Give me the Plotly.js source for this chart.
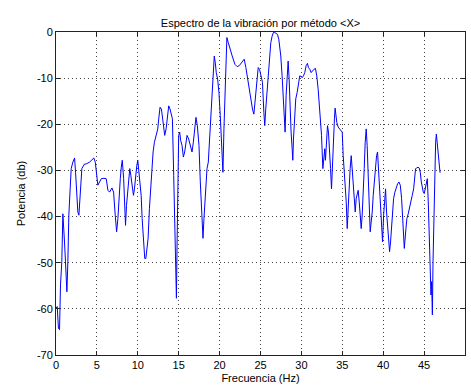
<!DOCTYPE html>
<html>
<head>
<meta charset="utf-8">
<script src="https://cdn.plot.ly/plotly-3.0.1.min.js"></script>
<style>
  html, body { margin: 0; padding: 0; background: #fff; }
  #chart { width: 471px; height: 387px; }
</style>
</head>
<body>
<div id="chart"></div>
<script>
// Spectrum samples: frequency (Hz) and power (dB)
const freqLow = [0.0, 0.15, 0.3, 0.43, 0.55, 0.71, 0.84, 0.96, 1.04, 1.16, 1.33, 1.45, 1.57, 1.73, 1.86, 2.06, 2.27, 2.39, 2.55, 2.67,
  2.8, 2.96, 3.16, 3.49, 3.69, 4.1, 4.39, 4.63, 4.8, 4.96, 5.12, 5.33, 5.53, 5.86, 6.14, 6.35, 6.55, 6.84, 7.04, 7.24,
  7.41, 7.57, 7.69, 7.86, 7.98, 8.1, 8.27, 8.39,
  8.5, 8.62, 8.74, 8.9, 9.02, 9.15, 9.31, 9.47, 9.59, 9.72, 9.88, 10, 10.12, 10.24, 10.41, 10.53, 10.69, 10.85, 10.98, 11.1,
  11.26, 11.42, 11.59, 11.75, 11.87, 12.03, 12.24, 12.44, 12.56, 12.72, 12.89, 13.01, 13.13, 13.29, 13.46, 13.62, 13.78, 13.94, 14.11, 14.23,
  14.39, 14.55, 14.67, 14.72, 14.8, 14.92, 15, 15.12, 15.24, 15.41, 15.57, 15.73, 15.85, 16.02, 16.22, 16.42, 16.63, 16.79, 16.95];
const powerLow = [-59.9, -59.5, -64.2, -64.5, -54.8, -49.8, -39.4, -41.9, -45.5, -49.8, -56.3, -49.8, -39.7, -34, -29.6, -28.2, -27.3, -30.4, -34.7, -39,
  -39.7, -34.7, -29.6, -28.6, -28.6, -28.2, -27.8, -27.3, -28.2, -31.1, -33.2, -32.5, -31.8, -31.7, -31.8, -34.3, -34.7, -33.8, -34.7, -39.7,
  -43.3, -40.4, -35.4, -31.8, -29.3, -27.8, -31.8, -40.4,
  -41.9, -37.6, -34.7, -30.4, -29.6, -31.1, -33.2, -35.4, -34, -31.1, -28.9, -27.8, -30.4, -31.8, -35.4, -40.4, -44.7, -49.1, -49.1, -46.9,
  -44.7, -38.3, -34, -28.2, -26, -23.9, -22.4, -21, -18.8, -16.3, -16.7, -18.8, -20.3, -22.4, -21, -17.8, -16, -16.7, -17.8, -18.8,
  -31.1, -42.6, -52.7, -57.7, -46.2, -35.4, -22.4, -21.7, -23.5, -24.6, -27.1, -26, -23.9, -22.4, -23.2, -24.6, -26, -23.9, -21.7];

const freqMid = [17.11, 17.28, 17.48, 17.64, 17.8, 17.97, 18.09, 18.25, 18.46, 18.62, 18.78, 18.94, 19.11, 19.23, 19.35, 19.47, 19.59, 19.76, 19.92, 20.08,
  20.24, 20.41, 20.53, 20.65, 20.77, 20.89, 21.06, 21.26, 21.54, 21.87, 22.15, 22.4, 22.68, 23.01, 23.21, 23.41, 23.62, 23.82, 24.02, 24.19,
  24.31, 24.43, 24.59, 24.72, 24.88, 25.04, 25.24, 25.41,
  25.52, 25.64, 25.81, 25.93, 26.09, 26.26, 26.42, 26.58, 26.74, 26.95, 27.07, 27.24, 27.36, 27.48, 27.64, 27.76, 27.89, 28.01, 28.13, 28.25,
  28.38, 28.5, 28.62, 28.74, 28.87, 28.95, 29.03, 29.15, 29.31, 29.48, 29.64, 29.8, 29.93, 30.09, 30.25, 30.41, 30.58, 30.74, 30.86, 31.03,
  31.19, 31.35, 31.52, 31.72, 31.88, 32.05, 32.21, 32.33, 32.46, 32.54, 32.62, 32.7, 32.78, 32.86, 32.94, 33.07, 33.19, 33.31, 33.43, 33.56,
  33.68, 33.8, 33.92, 34.04];
const powerMid = [-18.5, -20.3, -24.6, -32.5, -38.3, -44.7, -40.4, -35.4, -29.6, -28.2, -23.2, -18.1, -13.8, -10.9, -5.2, -6.6, -8.8, -10.2, -13.1, -18.1,
  -23.9, -30.4, -21, -13.8, -6.6, -1.2, -2.3, -3.7, -5.2, -7, -7.5, -7.3, -6.6, -5.9, -7.7, -10.2, -12.4, -14.5, -16.7, -17.8,
  -15.3, -12.4, -8.8, -7.7, -8.1, -9.5, -10.9, -17.4,
  -20.3, -16.7, -12.4, -8.8, -5.2, -2.3, -0.9, -0.1, -0.1, -0.3, -0.5, -1.6, -3, -5.2, -9.5, -13.8, -16.7, -21.7, -13.8, -8.8,
  -6.3, -10.2, -16.7, -21.7, -25.3, -27.8, -23.2, -18.1, -14.5, -13.1, -10.9, -9.5, -9.6, -9.9, -9.5, -8.8, -7.3, -6.8, -7.7, -8.1,
  -8.8, -8.4, -8.1, -7.9, -9.5, -12.4, -16, -19.6, -22.4, -26, -29.6, -28.2, -26.8, -25.3, -27.8, -23.2, -20.3, -21.7, -24.6, -29.6,
  -34, -27.5, -22.4, -18.8];

const freqHigh = [34.12, 34.21, 34.33, 34.49, 34.66, 34.82, 34.99, 35.11, 35.23, 35.36, 35.48, 35.6, 35.72, 35.84, 35.96, 36.09, 36.21, 36.33, 36.46, 36.58,
  36.7, 36.82, 36.94, 37.07, 37.19, 37.31, 37.43, 37.56, 37.68, 37.8, 37.92, 38.04, 38.17, 38.29, 38.41, 38.53, 38.66, 38.78, 38.9, 39.02,
  39.19, 39.31, 39.43, 39.56, 39.68, 39.8, 39.92, 40.05, 40.17, 40.29, 40.41, 40.54, 40.66, 40.78, 40.9, 41.03, 41.15, 41.27, 41.43, 41.6,
  41.76, 41.92, 42.09, 42.25, 42.41, 42.58,
  42.78, 42.9, 43.06, 43.22, 43.39, 43.55, 43.72, 43.84, 43.96, 44.08, 44.25, 44.41, 44.53, 44.66, 44.78, 44.9, 45.02, 45.15, 45.27, 45.39,
  45.51, 45.6, 45.68, 45.76, 45.84, 45.92, 46.01, 46.09, 46.17, 46.25, 46.33, 46.41, 46.5, 46.58, 46.66, 46.74, 46.86, 46.95];
const powerHigh = [-16.5, -18.1, -19.6, -20.6, -21, -21.4, -21.7, -26.8, -30.4, -32.5, -36.8, -42.6, -36.8, -33.2, -29.6, -26.8, -29.6, -33.2, -36.8, -39,
  -36.1, -34.7, -34.3, -36.8, -39.7, -42.6, -39.7, -35.4, -29.6, -23.9, -21, -24.6, -30.4, -36.8, -43.3, -41.2, -39, -35.4, -32.5, -28.9,
  -26.8, -26, -29.6, -32.5, -36.1, -41.2, -45.5, -39.7, -35.4, -34, -39, -42.6, -46.2, -47.6, -45.5, -41.2, -37.6, -36.1, -34.7, -33.6,
  -32.9, -32.5, -33.2, -36.1, -41.9, -46.9,
  -42.6, -40.4, -39.4, -38.3, -36.8, -35.4, -34, -31.8, -29.6, -29.5, -29.3, -29.5, -30.4, -32.5, -34, -34.7, -35, -34, -32.5, -31.8,
  -36.8, -42.6, -49.8, -56.3, -57, -54.1, -61.3, -49.8, -42.6, -36.5, -29.6, -23.9, -22.1, -23.9, -26, -27.5, -28.9, -30.5];

const xTicks = [0, 5, 10, 15, 20, 25, 30, 35, 40, 45, 50];
const yTicks = [-70, -60, -50, -40, -30, -20, -10, 0];

const titleText = 'Espectro de la vibración por método &lt;X&gt;';
const xTitle = 'Frecuencia (Hz)';
const yTitle = 'Potencia (db)';

const freq = freqLow.concat(freqMid, freqHigh);
const power = powerLow.concat(powerMid, powerHigh);

const font = { family: 'Liberation Sans, Arial, Helvetica, sans-serif', size: 11, color: '#000' };

const axisCommon = {
  showline: true, linecolor: '#222', linewidth: 1, mirror: 'ticks',
  ticks: 'inside', ticklen: 4, tickcolor: '#222', tickwidth: 1,
  showgrid: true, gridcolor: '#444', gridwidth: 1, griddash: '1px,3px',
  zeroline: false, tickfont: font, fixedrange: true
};

const trace = {
  type: 'scatter', mode: 'lines',
  x: freq, y: power,
  line: { color: '#0000ff', width: 1 },
  hoverinfo: 'skip'
};

const layout = {
  width: 471, height: 387,
  paper_bgcolor: '#fff', plot_bgcolor: '#fff',
  margin: { l: 56, r: 6, t: 32, b: 32, pad: 0 },
  showlegend: false,
  font: font,
  title: {
    text: titleText, font: font,
    x: 0.5, xref: 'paper', xanchor: 'center',
    y: 1 - 23 / 387, yref: 'container', yanchor: 'middle'
  },
  xaxis: Object.assign({}, axisCommon, {
    range: [0, 50], tickvals: xTicks, ticktext: xTicks.map(String),
    title: { text: xTitle, font: font, standoff: 4 }, automargin: false
  }),
  yaxis: Object.assign({}, axisCommon, {
    range: [-70, 0], tickvals: yTicks, ticktext: yTicks.map(String),
    title: { text: yTitle, font: font, standoff: 9 }, automargin: false
  })
};

Plotly.newPlot('chart', [trace], layout, { staticPlot: true, displayModeBar: false });
</script>
</body>
</html>
